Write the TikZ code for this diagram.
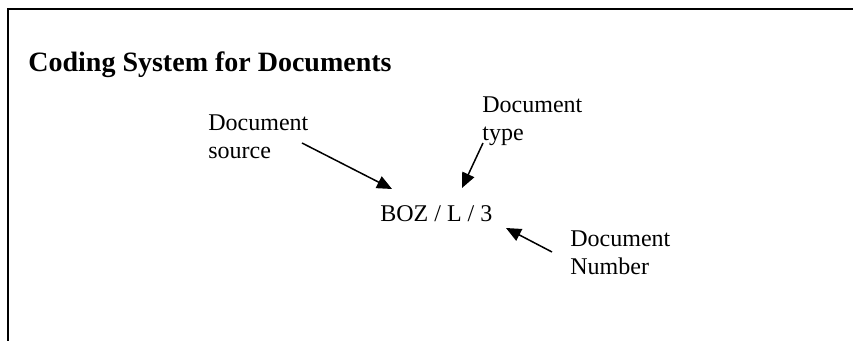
\documentclass[tikz,border=0pt]{standalone}
\usepackage{fontspec}
\setmainfont{Liberation Serif}
\usetikzlibrary{arrows.meta}
\begin{document}
\begin{tikzpicture}[x=0.5pt,y=-0.5pt,
  lbl/.style={anchor=base west, inner sep=0pt, font=\fontsize{12}{14}\selectfont},
  ttl/.style={anchor=base west, inner sep=0pt, font=\fontsize{14}{16}\selectfont\bfseries},
  pointer/.style={-{Triangle[length=7.5pt,width=6.5pt]}, line width=0.75pt},
  frame/.style={line width=1pt}]
\useasboundingbox (0,0) rectangle (853,341);

% open frame: top and left edges
\draw[frame] (8,341) -- (8,9) -- (853,9);

% heading
\node[ttl] (title) at (28,72) {Coding System for Documents};

% the code itself
\node[lbl] (code) at (380,222) {BOZ / L / 3};

% labels
\node[lbl] (srcA) at (208,131) {Document};
\node[lbl] (srcB) at (208,159) {source};
\node[lbl] (typA) at (482,113) {Document};
\node[lbl] (typB) at (482,141) {type};
\node[lbl] (numA) at (570,247) {Document};
\node[lbl] (numB) at (570,275) {Number};

% arrow ends
\coordinate (srcFrom) at (302,143);
\coordinate (srcTo) at (392,189);
\coordinate (typFrom) at (483,143);
\coordinate (typTo) at (462,188);
\coordinate (numFrom) at (552,252);
\coordinate (numTo) at (506,228);

\draw[pointer] (srcFrom) -- (srcTo);
\draw[pointer] (typFrom) -- (typTo);
\draw[pointer] (numFrom) -- (numTo);
\end{tikzpicture}
\end{document}
